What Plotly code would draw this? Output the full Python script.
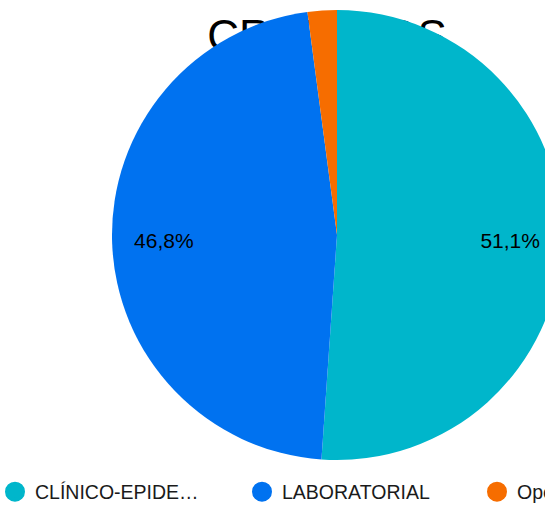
import plotly.graph_objects as go

labels = ["CLÍNICO-EPIDE…", "LABORATORIAL", "Opção ignorada"]
values = [51.1, 46.8, 2.1]
colors = ["#00B6CB", "#0072F0", "#F66D00"]
title_text = "CRITÉRIOS"

W, H = 674, 506
FONT = "Liberation Sans, Arial, sans-serif"

cx, cy, half = 337, 235, 225
pie_domain = dict(x=[(cx - half) / W, (cx + half) / W],
                  y=[(H - cy - half) / H, (H - cy + half) / H])

fig = go.Figure()
# filled pie
fig.add_trace(go.Pie(
    labels=labels, values=values, sort=False, direction="clockwise", rotation=0,
    marker=dict(colors=colors, line=dict(width=0)),
    textinfo="none", showlegend=False, hoverinfo="label+percent",
    domain=pie_domain,
))
# transparent ring used only to place the percentage labels further out
fig.add_trace(go.Pie(
    labels=labels, values=values, sort=False, direction="clockwise", rotation=0,
    hole=0.54,
    marker=dict(colors=["rgba(0,0,0,0)"] * len(values), line=dict(width=0)),
    texttemplate="%{percent:.1%}",
    textposition=["inside", "inside", "none"],
    insidetextorientation="horizontal",
    textfont=dict(family=FONT, size=21, color="#000000"),
    showlegend=False, hoverinfo="skip",
    domain=pie_domain,
))

legend_x = [-5 / W, 242 / W, 477 / W]
for i, (lab, col) in enumerate(zip(labels, colors)):
    lg = "legend" if i == 0 else f"legend{i+1}"
    fig.add_trace(go.Scatter(
        x=[None], y=[None], mode="markers", name=lab,
        marker=dict(symbol="circle", size=16, color=col, line=dict(color=col, width=4)),
        showlegend=True, legend=lg, hoverinfo="skip",
    ))

legend_common = dict(orientation="h", yanchor="middle", y=(H - 492) / H,
                     xanchor="left", font=dict(family=FONT, size=19.5, color="#1a1a1a"),
                     bgcolor="rgba(0,0,0,0)", itemsizing="trace")
fig.update_layout(
    width=W, height=H, autosize=False,
    margin=dict(l=0, r=0, t=0, b=0, autoexpand=False),
    paper_bgcolor="white", plot_bgcolor="rgba(0,0,0,0)",
    separators=",.",
    xaxis=dict(visible=False), yaxis=dict(visible=False),
    legend=dict(x=legend_x[0], **legend_common),
    legend2=dict(x=legend_x[1], **legend_common),
    legend3=dict(x=legend_x[2], **legend_common),
    shapes=[dict(type="rect", xref="paper", yref="paper",
                 x0=202 / W, x1=452 / W, y0=(H - 57) / H, y1=(H - 5) / H,
                 line=dict(width=0), fillcolor="rgba(0,0,0,0)", layer="below",
                 label=dict(text=title_text, font=dict(family=FONT, size=44, color="#000000"),
                            textposition="middle center"))],
)

fig.write_html("out.html", config={"displayModeBar": False},
               post_script="document.body.style.margin='0';document.body.style.overflow='hidden';")
